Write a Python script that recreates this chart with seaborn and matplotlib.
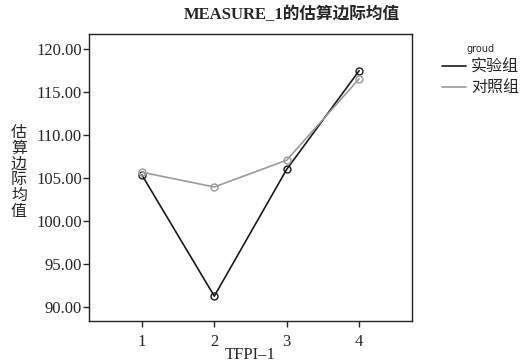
import numpy as np
import pandas as pd
import seaborn as sns
import matplotlib.pyplot as plt
from matplotlib.lines import Line2D

# values
tfpi = [1, 2, 3, 4]
exp_means = [105.35, 91.28, 106.0, 117.44]
ctrl_means = [105.66, 103.95, 107.06, 116.5]
groups = ['实验组', '对照组']
yticks = [90, 95, 100, 105, 110, 115, 120]

df = pd.DataFrame({
    'TFPI-1': tfpi * 2,
    'mean': exp_means + ctrl_means,
    'groud': [groups[0]] * 4 + [groups[1]] * 4,
})

sns.set_style('white')
plt.rcParams['font.family'] = ['Liberation Serif', 'Noto Sans CJK SC']

fig = plt.figure(figsize=(5.28, 3.62), dpi=100)
ax = fig.add_axes([89 / 528, 1 - 321 / 362, (412 - 89) / 528, (321 - 34) / 362])

palette = {groups[0]: '#1a1a1a', groups[1]: '#9a9a9a'}
sns.lineplot(data=df, x='TFPI-1', y='mean', hue='groud', palette=palette,
             marker='o', markersize=5, markerfacecolor='none', markeredgewidth=1.0,
             linewidth=1.2, legend=False, ax=ax)
# open circles in the line colour
for ln in ax.lines:
    ln.set_markeredgecolor(ln.get_color())
    ln.set_markerfacecolor('none')

ax.set_xlim(0.27, 4.73)
ax.set_ylim(88.4, 121.7)
ax.set_xticks(tfpi)
ax.set_yticks(yticks)
ax.set_yticklabels(['%.2f' % v for v in yticks])
ax.tick_params(axis='y', direction='out', length=4, width=1, labelsize=12, left=True, pad=1)
ax.tick_params(axis='x', direction='out', length=4, width=1, labelsize=12, bottom=True, pad=5)
for s in ax.spines.values():
    s.set_color('#222222')
    s.set_linewidth(1.0)

ax.set_xlabel('TFPI–1', fontsize=12, labelpad=-2)
ax.set_ylabel('')
fig.text(19 / 528, 1 - 172 / 362, '\n'.join('估算边际均值'), ha='center', va='center',
         fontsize=11.5, family=['Noto Sans CJK SC'], linespacing=0.9)

fig.text(292 / 528, 1 - 15 / 362, 'MEASURE_1的估算边际均值', ha='center', va='center',
         fontsize=12, fontweight='bold', family=['Liberation Serif', 'Noto Sans CJK SC'])

handles = [Line2D([], [], color=palette[g], linewidth=1.2) for g in groups]
leg = fig.legend(handles, groups, loc='upper left', bbox_to_anchor=(436 / 528, 1 - 38 / 362),
                 frameon=False, title='groud', handlelength=1.5, handletextpad=0.3,
                 labelspacing=0.25, borderaxespad=0,
                 prop={'family': ['Noto Sans CJK SC'], 'size': 11.5})
leg.get_title().set_fontsize(7)
leg.get_title().set_family(['DejaVu Sans'])

fig.savefig('out.png', dpi=100)
